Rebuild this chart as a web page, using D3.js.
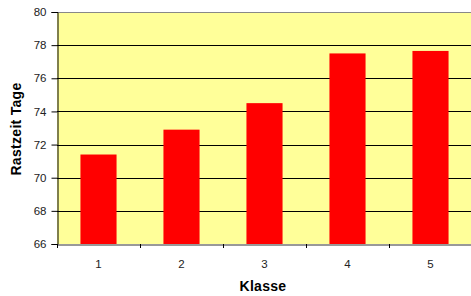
<!DOCTYPE html>
<html>
<head>
<meta charset="utf-8">
<script src="https://cdn.jsdelivr.net/npm/d3@7"></script>
<style>
  body { margin: 0; background: #fff; }
  svg { display: block; font-family: "Liberation Sans", Arial, sans-serif; }
</style>
</head>
<body>
<script>
//------------ DATA ----------------------
const classes = ["1", "2", "3", "4", "5"];
const restDays = [71.4, 72.9, 74.5, 77.5, 77.65];
const yTicks = [66, 68, 70, 72, 74, 76, 78, 80];

//------------ SIZES ----------------------
const width = 471, height = 296;
const margin = {left: 57, top: 12, right: -1, bottom: 52};

const svg = d3.select("body").append("svg")
    .attr("width", width)
    .attr("height", height);

const x = d3.scaleBand()
    .domain(classes)
    .range([margin.left, width - margin.right])
    .paddingInner(0.565)
    .paddingOuter(0.2825);

const xTicks = d3.scaleBand().domain(classes).range([margin.left, width - margin.right]);

const y = d3.scaleLinear()
    .domain([66, 80])
    .range([height - margin.bottom, margin.top]);

// plot background
svg.append("rect")
    .attr("x", margin.left).attr("y", y(80))
    .attr("width", width - margin.right - margin.left)
    .attr("height", y(66) - y(80))
    .attr("fill", "#ffff99");

// gridlines
svg.append("g").selectAll("line")
    .data(yTicks.slice(1))
    .join("line")
    .attr("x1", margin.left).attr("x2", width)
    .attr("y1", d => Math.round(y(d)) + 0.5).attr("y2", d => Math.round(y(d)) + 0.5)
    .attr("stroke", d => d === 80 ? "#888" : "#000");

// bars
svg.append("g").selectAll("rect")
    .data(restDays)
    .join("rect")
    .attr("x", (d, i) => x(classes[i]))
    .attr("width", x.bandwidth())
    .attr("y", d => y(d))
    .attr("height", d => y(66) - y(d))
    .attr("fill", "#ff0000");

// y axis
const yAxis = svg.append("g")
    .attr("transform", `translate(${margin.left + 0.5},0)`)
    .call(d3.axisLeft(y).tickValues(yTicks).tickSize(6).tickPadding(5));
yAxis.select(".domain").attr("stroke", "#000");
yAxis.selectAll("text").attr("font-size", 11.5).attr("fill", "#222");

// x axis
const xAxis = svg.append("g")
    .attr("transform", `translate(0,${Math.round(y(66)) + 0.5})`)
    .call(d3.axisBottom(xTicks).tickSize(0).tickPadding(15));
xAxis.select(".domain").attr("stroke", "#333");
xAxis.selectAll("text").attr("font-size", 11.5).attr("fill", "#222");
svg.append("g").selectAll("line")
    .data(classes)
    .join("line")
    .attr("x1", d => Math.round(xTicks(d)) + 0.5).attr("x2", d => Math.round(xTicks(d)) + 0.5)
    .attr("y1", y(66)).attr("y2", y(66) + 4)
    .attr("stroke", "#000");

// axis titles
svg.append("text")
    .attr("x", 263)
    .attr("y", 291)
    .attr("text-anchor", "middle")
    .attr("font-size", 14).attr("font-weight", "bold")
    .attr("letter-spacing", 0.3)
    .text("Klasse");

svg.append("text")
    .attr("transform", `translate(21,${(y(66) + y(80)) / 2 + 1}) rotate(-90)`)
    .attr("text-anchor", "middle")
    .attr("font-size", 14).attr("font-weight", "bold")
    .attr("letter-spacing", 0.3)
    .text("Rastzeit Tage");
</script>
</body>
</html>
